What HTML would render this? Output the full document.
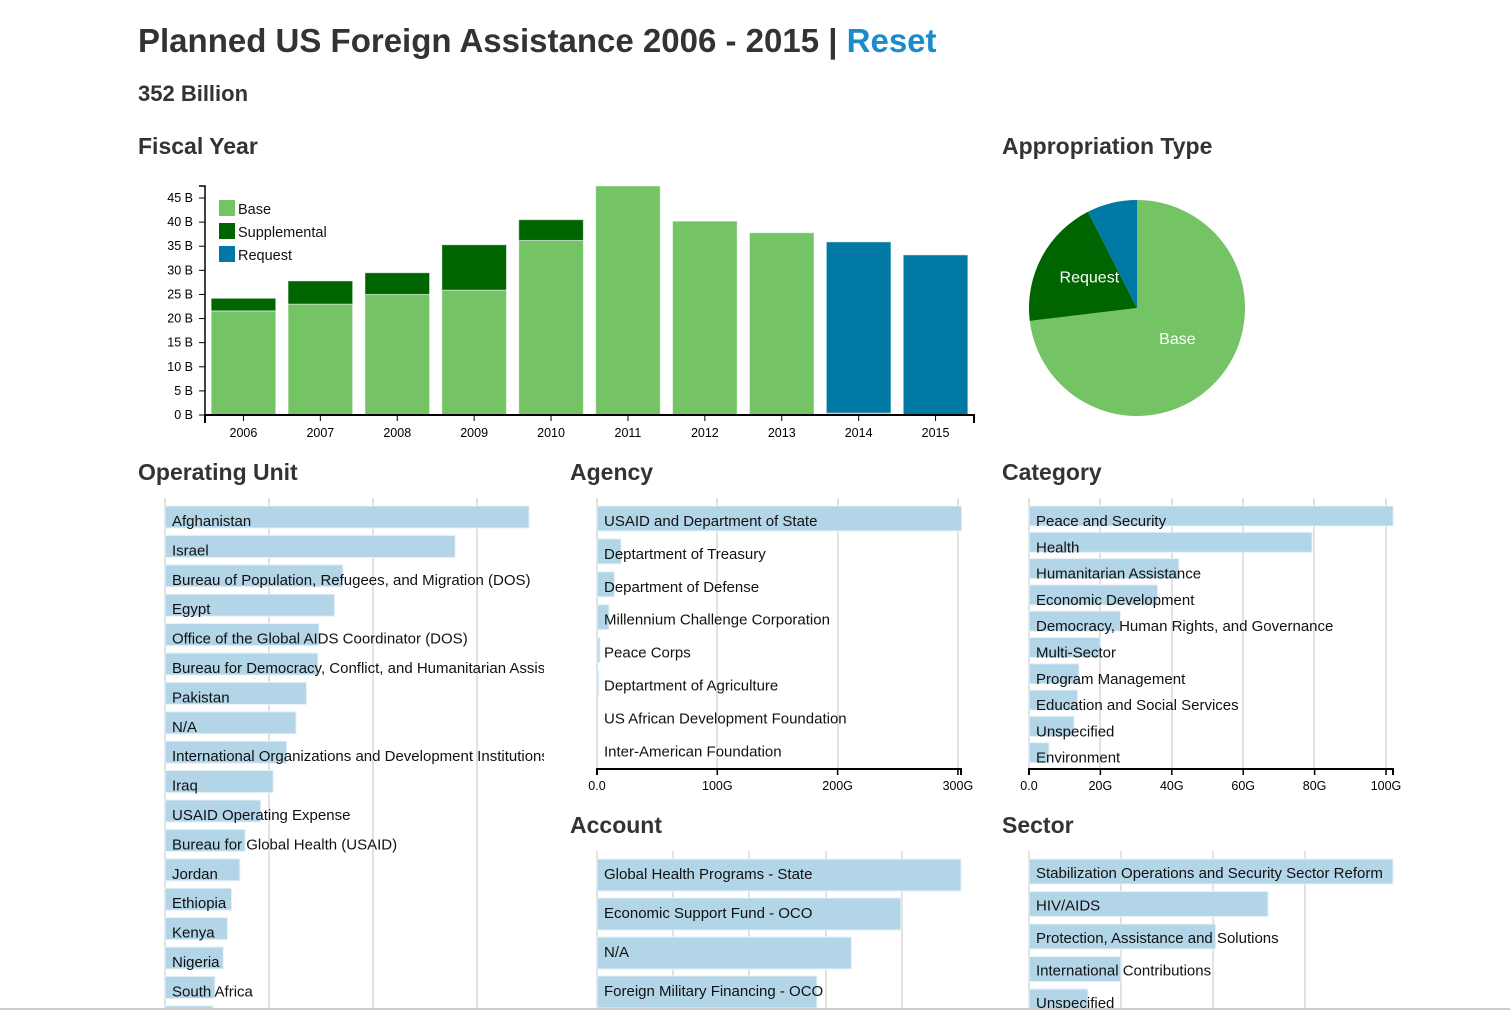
<!DOCTYPE html>
<html><head><meta charset="utf-8"><style>
html,body{margin:0;padding:0;background:#fff;width:1510px;height:1010px;overflow:hidden}
svg{display:block;font-family:"Liberation Sans",Arial,sans-serif}
.h{font-size:23px;font-weight:bold;fill:#333}
.tk{font-size:12.5px;fill:#000}
.bl{font-size:15px;fill:#111}
</style></head><body>
<svg id="root" width="1510" height="1010">
<text x="138" y="52" font-size="33" font-weight="bold" fill="#333">Planned US Foreign Assistance 2006 - 2015 | <tspan fill="#1a8ccc">Reset</tspan></text>
<text x="138" y="101" font-size="22" font-weight="bold" fill="#333">352 Billion</text>
<text class="h" x="138" y="154">Fiscal Year</text>
<text class="h" x="1002" y="154">Appropriation Type</text>
<text class="h" x="138" y="480">Operating Unit</text>
<text class="h" x="570" y="480">Agency</text>
<text class="h" x="1002" y="480">Category</text>
<text class="h" x="570" y="833">Account</text>
<text class="h" x="1002" y="833">Sector</text>
<g id="fy"></g>
<g id="pie"></g>
<g id="ou"></g>
<g id="ag"></g>
<g id="cat"></g>
<g id="acc"></g>
<g id="sec"></g>
<line x1="0" y1="1009" x2="1510" y2="1009" stroke="#ccc" stroke-width="2"/>
</svg>
<script>
const years = ['2006','2007','2008','2009','2010','2011','2012','2013','2014','2015'];
const baseVals = [21.6,23,25,25.9,36.2,47.5,40.2,37.8,0.4,0];
const suppVals = [2.6,4.8,4.5,9.4,4.3,0,0,0,0,0];
const reqVals = [0,0,0,0,0,0,0,0,35.5,33.2];
const yTicks = [0,5,10,15,20,25,30,35,40,45];
const pieLabels = ['Base','Request','Request'];
const pieVals = [0.731,0.194,0.075];

const ouNames = ['Afghanistan','Israel','Bureau of Population, Refugees, and Migration (DOS)','Egypt','Office of the Global AIDS Coordinator (DOS)','Bureau for Democracy, Conflict, and Humanitarian Assistance','Pakistan','N/A','International Organizations and Development Institutions','Iraq','USAID Operating Expense','Bureau for Global Health (USAID)','Jordan','Ethiopia','Kenya','Nigeria','South Africa','Other'];
const ouVals = [35,27.9,17.1,16.3,14.8,14.7,13.6,12.6,11.7,10.4,9.2,7.7,7.2,6.4,6.0,5.6,4.8,4.6];
const agNames = ['USAID and Department of State','Deptartment of Treasury','Department of Defense','Millennium Challenge Corporation','Peace Corps','Deptartment of Agriculture','US African Development Foundation','Inter-American Foundation'];
const agVals = [303,20,14.5,10,2.5,1.5,0,0];
const agTicks = ['0.0','100G','200G','300G'];
const catNames = ['Peace and Security','Health','Humanitarian Assistance','Economic Development','Democracy, Human Rights, and Governance','Multi-Sector','Program Management','Education and Social Services','Unspecified','Environment'];
const catVals = [102,79.3,42,36,25.6,20,14,13.6,12.6,5.6];
const catTicks = ['0.0','20G','40G','60G','80G','100G'];
const accNames = ['Global Health Programs - State','Economic Support Fund - OCO','N/A','Foreign Military Financing - OCO'];
const accVals = [48.5,40.5,33.9,29.3];
const secNames = ['Stabilization Operations and Security Sector Reform','HIV/AIDS','Protection, Assistance and Solutions','International Contributions','Unspecified'];
const secVals = [39.6,26.0,20.3,10.0,6.4];

const NS='http://www.w3.org/2000/svg';
function mk(p,tag,a,txt){const e=document.createElementNS(NS,tag);for(const k in a)e.setAttribute(k,a[k]);if(txt!==undefined)e.textContent=txt;p.appendChild(e);return e;}

// Fiscal year
(function(){
 const g=document.getElementById('fy');
 const x0=205,x1=974,y0=415,k=(415-198)/45;
 const y=v=>y0-v*k;
 const bw=(x1-x0)/years.length;
 yTicks.forEach(t=>{
  const l=mk(g,'line',{x1:x0-6,x2:x0,y1:y(t),y2:y(t),stroke:'#000'});
  
  
  const tx=mk(g,'text',{x:x0-12,y:y(t)+4,'text-anchor':'end',class:'tk'},t+' B');
  
  
 });
 years.forEach((yr,i)=>{
  const bx=x0+i*bw+bw*0.08, w=bw*0.84;
  let acc=0;
  [[baseVals[i],'#74c365','bar-base-'],[suppVals[i],'#006400','bar-supplemental-'],[reqVals[i],'#007aa5','bar-request-']].forEach(s=>{
   if(s[0]<=0)return;
   const r=mk(g,'rect',{x:bx,y:y(acc+s[0]),width:w,height:s[0]*k,fill:s[1],stroke:'rgba(255,255,255,0.5)','stroke-width':1});
   
   
   acc+=s[0];
  });
  const cx=x0+(i+0.5)*bw;
  const t=mk(g,'line',{x1:cx,x2:cx,y1:y0,y2:y0+6,stroke:'#000'});
  
  
  const tl=mk(g,'text',{x:cx,y:y0+22,'text-anchor':'middle',class:'tk'},yr);
  
  
 });
 const ya=mk(g,'path',{d:`M${x0-6},186H${x0}V${y0}`,fill:'none',stroke:'#000','stroke-width':1.5});
 
 
 const xa=mk(g,'path',{d:`M${x0},${y0+8}V${y0}H${x1}V${y0+8}`,fill:'none',stroke:'#000','stroke-width':2});
 
 
 [['Base','#74c365'],['Supplemental','#006400'],['Request','#007aa5']].forEach((l,i)=>{
  const r=mk(g,'rect',{x:219,y:200+i*23,width:16,height:16,fill:l[1]});
  
  
  const t=mk(g,'text',{x:238,y:214+i*23,'font-size':'14.5',fill:'#111'},l[0]);
  
  
 });
})();

// Pie
(function(){
 const g=document.getElementById('pie');
 const cx=1137,cy=308,r=108;
 const cols=['#74c365','#006400','#007aa5'];
 const tot=pieVals.reduce((a,b)=>a+b,0);
 let a0=0;
 pieVals.forEach((v,i)=>{
  const a1=a0+v/tot*2*Math.PI;
  const p=(a)=>[cx+r*Math.sin(a),cy-r*Math.cos(a)];
  const s=p(a0),e=p(a1);
  const d=`M${cx},${cy}L${s[0]},${s[1]}A${r},${r} 0 ${a1-a0>Math.PI?1:0} 1 ${e[0]},${e[1]}Z`;
  const sl=mk(g,'path',{d:d,fill:cols[i]});
  
  
  if(i<2){
   const m=(a0+a1)/2, lr=r*0.5;
   const t=mk(g,'text',{x:cx+lr*Math.sin(m),y:cy-lr*Math.cos(m),'text-anchor':'middle','font-size':'16',fill:'#fff'},pieLabels[i]);
   
   
  }
  a0=a1;
 });
})();

function hbar(id,names,vals,o){
 const g=document.getElementById(id);
 o.grid.forEach(gx=>{
  const l=mk(g,'line',{x1:gx,x2:gx,y1:o.gy0,y2:o.gy1,stroke:'#e2e2e2','stroke-width':2});
  
  
 });
 names.forEach((n,i)=>{
  const yy=o.y0+i*o.pitch;
  const r=mk(g,'rect',{x:o.x0,y:yy,width:Math.max(0,vals[i]*o.k),height:o.h,fill:'#b3d5e8',stroke:'#e6f1f8','stroke-width':1});
  
  
  const t=mk(g,'text',{x:o.x0+7,y:yy+o.h-o.tb,class:'bl'},n);
  
  
 });
 if(o.ticks){
  const ax=mk(g,'path',{d:`M${o.x0},${o.ay+6}V${o.ay}H${o.ax1}V${o.ay+6}`,fill:'none',stroke:'#000','stroke-width':2});
  
  
  o.ticks.forEach((tk,i)=>{
   const tx=o.x0+i*o.tstep;
   const l=mk(g,'line',{x1:tx,x2:tx,y1:o.ay,y2:o.ay+6,stroke:'#000','stroke-width':1.5});
   
   
   const t=mk(g,'text',{x:tx,y:o.ay+21,'text-anchor':'middle',class:'tk'},tk);
   
   
  });
 }
}
hbar('ou',ouNames,ouVals,{x0:165,k:10.4,y0:506,pitch:29.4,h:22,tb:2,grid:[165,269,373,477],gy0:498,gy1:1010});
const ouClip=mk(document.getElementById('root'),'clipPath',{id:'ouc'});mk(ouClip,'rect',{x:0,y:0,width:544,height:1010});
document.getElementById('ou').setAttribute('clip-path','url(#ouc)');
hbar('ag',agNames,agVals,{x0:597,k:361/300,y0:506,pitch:32.9,h:25,tb:5,grid:[597,717,838,958],gy0:498,gy1:769,ticks:agTicks,tstep:120.3,ay:769,ax1:961});
hbar('cat',catNames,catVals,{x0:1029,k:3.57,y0:506,pitch:26.3,h:20,tb:0,grid:[1029,1100,1172,1243,1314,1386],gy0:498,gy1:769,ticks:catTicks,tstep:71.4,ay:769,ax1:1393});
hbar('acc',accNames,accVals,{x0:597,k:364/48.5,y0:859,pitch:39,h:32,tb:12,grid:[597,673,749,826,902],gy0:851,gy1:1010});
hbar('sec',secNames,secVals,{x0:1029,k:364/39.6,y0:859,pitch:32.5,h:25,tb:6,grid:[1029,1121,1213,1305],gy0:851,gy1:1010});
</script>
</body></html>
